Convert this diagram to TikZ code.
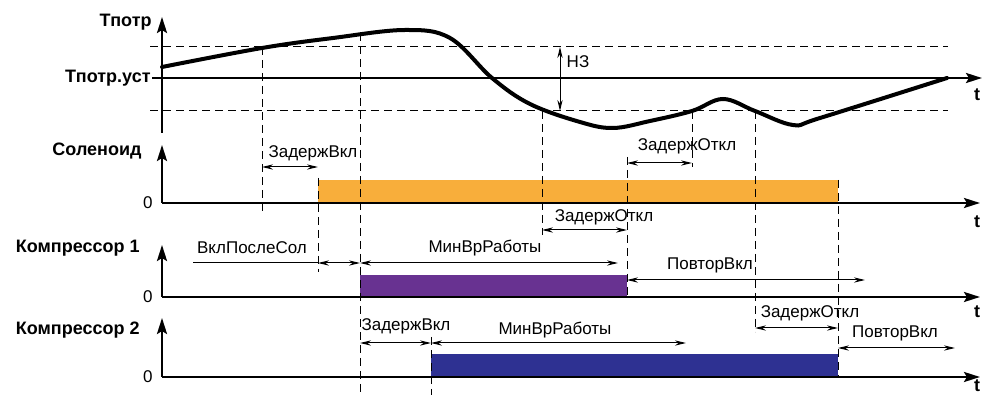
\documentclass[tikz,border=0pt]{standalone}
\usepackage{fontspec}
\setmainfont{Liberation Sans}
\usetikzlibrary{arrows.meta}
\usetikzlibrary{positioning}
\definecolor{solorange}{RGB}{248,174,59}
\definecolor{kpurple}{RGB}{104,50,145}
\definecolor{kblue}{RGB}{46,49,146}
\tikzstyle{axis} = [line width=1.3pt,-{Stealth[length=8pt,width=5pt,inset=1.5pt]}]
\tikzstyle{guide} = [line width=0.5pt,dash pattern=on 4pt off 2.5pt]
\tikzstyle{dim} = [line width=0.5pt,{Stealth[length=5.5pt,width=2.6pt]}-{Stealth[length=5.5pt,width=2.6pt]}]
\tikzstyle{lbl} = [font=\fontsize{8.5}{10}\selectfont,inner sep=0pt]
\tikzstyle{title} = [font=\fontsize{9}{10}\selectfont\bfseries,inner sep=0pt]

\begin{document}
\begin{tikzpicture}[x=0.5pt,y=-0.5pt]
\useasboundingbox (0,0) rectangle (982,395);

% Titles
\node[title,anchor=east] (tpotr) at (152,22) {Тпотр};
\node[title,anchor=east] (tust) at (151,78) {Тпотр.уст};
\node[title,anchor=east] (sol) at (142,151) {Соленоид};
\node[title,anchor=east] (k1) at (140,248) {Компрессор 1};
\node[title,anchor=east] (k2) at (140,330) {Компрессор 2};
\node[lbl,anchor=east] (z1) at (153,203) {0};
\node[lbl,anchor=east] (z2) at (153,297) {0};
\node[lbl,anchor=east] (z3) at (153,377) {0};
\node[title] (ta) at (977,95) {t};
\node[title] (tb) at (977,222) {t};
\node[title] (tc) at (977,312) {t};
\node[title,anchor=south] (td) at (977,392) {t};

% Bars
\fill[solorange] (318,180) rectangle (838,203);
\fill[kpurple] (360,275) rectangle (627,297);
\fill[kblue] (431,354) rectangle (838,377);

% Levels
\draw[guide] (150,47) -- (948,47);
\draw[guide] (150,111) -- (948,111);

% Guides
\draw[guide] (262,47) -- (262,212);
\draw[guide] (318,178) -- (318,272);
\draw[guide] (360,33) -- (360,395);
\draw[guide] (431,337) -- (431,395);
\draw[guide] (542,111) -- (542,235);
\draw[guide] (627,157) -- (627,297);
\draw[guide] (692,111) -- (692,167);
\draw[guide] (755,111) -- (755,332);
\draw[guide] (838,180) -- (838,377);

% Axes
\draw[axis] (162,133) -- (162,17);
\draw[axis] (152,78) -- (982,78);
\draw[axis] (162,203) -- (162,145);
\draw[axis] (162,203) -- (980,203);
\draw[axis] (162,297) -- (162,245);
\draw[axis] (162,297) -- (980,297);
\draw[axis] (162,377) -- (162,318);
\draw[axis] (162,377) -- (980,377);

% Curve
\draw[line width=2pt,line cap=round] plot[smooth,tension=0.6] coordinates {(162,67) (262,48) (333,38) (405,30) (450,38) (492,78) (530,104) (580,122) (613,128) (650,121) (692,111) (723,99) (755,111) (793,125) (820,118) (947,78)};

% Hysteresis
\coordinate (hz1) at (560,47);
\coordinate (hz2) at (560,111);
\draw[dim] (hz1) -- (hz2);
\node[lbl] (hz) at (578,62) {НЗ};

% Solenoid
\coordinate (s1) at (262,167);
\coordinate (s2) at (318,167);
\draw[dim] (s1) -- (s2);
\node[lbl] (sdon) at (313,153) {ЗадержВкл};
\coordinate (s3) at (627,163);
\coordinate (s4) at (692,163);
\draw[dim] (s3) -- (s4);
\node[lbl] (sdoff) at (687,146) {ЗадержОткл};
\coordinate (s5) at (542,230);
\coordinate (s6) at (627,230);
\draw[dim] (s5) -- (s6);
\node[lbl] (sdoff2) at (604,217) {ЗадержОткл};

% Compressor 1
\coordinate (a0) at (193,263);
\coordinate (a1) at (318,263);
\coordinate (a2) at (360,263);
\coordinate (a3) at (618,263);
\draw[line width=0.5pt] (a0) -- (a1);
\draw[dim] (a1) -- (a2);
\draw[dim] (a2) -- (a3);
\node[lbl] (aftsol) at (252,248) {ВклПослеСол};
\node[lbl] (minrun1) at (485,248) {МинВрРаботы};
\coordinate (a4) at (627,280);
\coordinate (a5) at (865,280);
\draw[dim] (a4) -- (a5);
\node[lbl] (rep1) at (710,265) {ПовторВкл};

% Compressor 2
\coordinate (b1) at (360,343);
\coordinate (b2) at (431,343);
\coordinate (b3) at (686,343);
\draw[dim] (b1) -- (b2);
\draw[dim] (b2) -- (b3);
\node[lbl] (don2) at (406,326) {ЗадержВкл};
\node[lbl] (minrun2) at (555,330) {МинВрРаботы};
\coordinate (b4) at (755,328);
\coordinate (b5) at (838,328);
\draw[dim] (b4) -- (b5);
\node[lbl] (doff2) at (810,313) {ЗадержОткл};
\coordinate (b6) at (838,348);
\coordinate (b7) at (955,348);
\draw[dim] (b6) -- (b7);
\node[lbl] (rep2) at (895,333) {ПовторВкл};

\end{tikzpicture}
\end{document}
